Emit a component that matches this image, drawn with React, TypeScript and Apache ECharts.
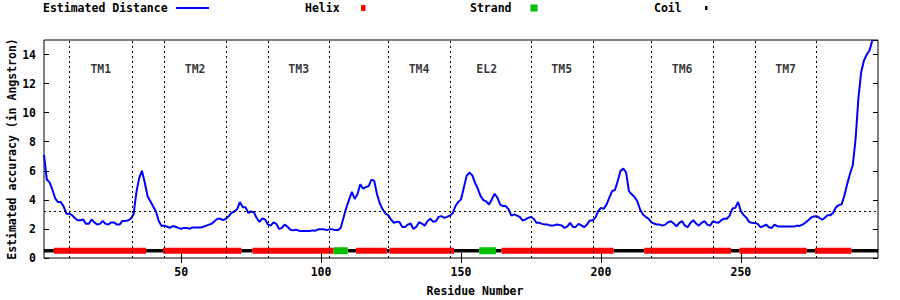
import React, { useEffect, useRef } from "react";
import * as echarts from "echarts";

const FONT = "'DejaVu Sans Mono', 'Liberation Mono', monospace";

// Estimated distance per residue, starting at residue 1
const firstResidue = 1;
const distance = [
  7.1, 5.4, 5.2, 4.7, 4.1, 3.85, 3.85, 3.55, 3.05, 3.05,
  2.95, 2.75, 2.6, 2.6, 2.65, 2.35, 2.35, 2.65, 2.45, 2.3,
  2.35, 2.55, 2.35, 2.3, 2.45, 2.45, 2.3, 2.3, 2.55, 2.55,
  2.58, 2.7, 3.0, 4.5, 5.5, 6.0, 5.2, 4.25, 3.9, 3.55,
  3.2, 2.55, 2.2, 2.23, 2.15, 2.07, 2.2, 2.15, 2.07, 2.0,
  2.07, 2.07, 2.0, 2.1, 2.1, 2.1, 2.1, 2.15, 2.23, 2.3,
  2.37, 2.55, 2.7, 2.7, 2.6, 2.7, 2.88, 3.1, 3.2, 3.35,
  3.85, 3.5, 3.5, 3.1, 3.2, 3.15, 2.75, 2.48, 2.73, 2.65,
  2.3, 2.23, 2.45, 2.35, 2.0, 2.07, 2.3, 2.15, 1.95, 1.9,
  1.95, 1.88, 1.86, 1.86, 1.86, 1.86, 1.9, 1.88, 1.97, 1.97,
  1.97, 1.92, 1.97, 1.97, 1.92, 1.92, 2.07, 2.75, 3.45, 4.0,
  4.55, 4.07, 4.38, 5.07, 4.77, 4.88, 4.95, 5.4, 5.3, 4.38,
  3.75, 3.35, 3.06, 2.95, 2.65, 2.42, 2.5, 2.48, 2.14, 2.14,
  2.3, 2.37, 2.0, 2.14, 2.46, 2.37, 2.23, 2.53, 2.7, 2.5,
  2.53, 2.83, 2.88, 2.76, 2.83, 2.92, 3.06, 3.57, 3.85, 4.03,
  4.84, 5.65, 5.88, 5.7, 5.18, 4.77, 4.26, 3.98, 3.9, 3.68,
  4.03, 4.42, 4.15, 3.68, 3.57, 3.57, 3.34, 2.92, 3.0, 2.92,
  2.83, 2.58, 2.65, 2.76, 2.83, 2.7, 2.42, 2.42, 2.35, 2.3,
  2.3, 2.23, 2.23, 2.3, 2.28, 2.23, 2.07, 2.18, 2.42, 2.14,
  2.14, 2.35, 2.25, 2.12, 2.3, 2.58, 2.58, 2.76, 3.22, 3.45,
  3.38, 3.68, 4.15, 4.6, 4.68, 5.3, 6.0, 6.15, 5.88, 4.6,
  4.38, 4.2, 3.9, 3.34, 3.0, 2.83, 2.7, 2.46, 2.37, 2.3,
  2.3, 2.23, 2.3, 2.46, 2.53, 2.37, 2.18, 2.42, 2.53, 2.23,
  2.12, 2.42, 2.6, 2.37, 2.23, 2.42, 2.53, 2.3, 2.23, 2.53,
  2.46, 2.42, 2.6, 2.7, 2.7, 2.92, 3.4, 3.45, 3.85, 3.22,
  2.95, 2.77, 2.47, 2.42, 2.4, 2.35, 2.12, 2.19, 2.3, 2.12,
  2.07, 2.3, 2.19, 2.16, 2.16, 2.16, 2.16, 2.16, 2.16, 2.23,
  2.21, 2.3, 2.42, 2.58, 2.77, 2.86, 2.88, 2.77, 2.63, 2.77,
  2.95, 2.95, 3.11, 3.5, 3.64, 3.69, 4.3, 5.1, 5.8, 6.4,
  8.2, 11.0, 12.8, 13.6, 14.0, 14.3, 15.0,
];

// Secondary structure segments: type (0 helix, 1 strand, 2 coil), first residue, last residue
const ssTypes = [2, 0, 2, 0, 2, 0, 1, 2, 0, 2, 0, 2, 1, 2, 0, 2, 0, 2, 0, 2, 0, 2];
const ssStart = [1, 5, 38, 44, 72, 76, 105, 110, 113, 124, 125, 148, 157, 163, 165, 205, 216, 247, 250, 274, 277, 290];
const ssEnd = [4, 37, 43, 71, 75, 104, 109, 112, 123, 124, 147, 156, 162, 164, 204, 215, 246, 249, 273, 276, 289, 299];
const ssColors = ["#ff0000", "#00c000", "#000000"];
const ssHeights = [6, 7, 3.5];
const ssLevel = 0.5;

// Region boundaries (dotted vertical lines) and region labels
const boundaries = [10, 32.4, 44, 66.2, 81.2, 103, 124, 146, 175, 197.2, 218, 240, 255, 277];
const regionNames = ["TM1", "TM2", "TM3", "TM4", "EL2", "TM5", "TM6", "TM7"];
const regionCenters = [21.3, 55, 92, 135, 159.2, 186, 229, 266];
const regionLabelLevel = 13;
const threshold = 3.22;

const xTicks = [50, 100, 150, 200, 250];
const xMin = 1;
const xMax = 299;
const yMax = 15;

export default function App() {
  const ref = useRef<HTMLDivElement>(null);
  useEffect(() => {
    if (!ref.current) return;
    const chart = echarts.init(ref.current, undefined, { renderer: "svg" });
    const textBase = { fontFamily: FONT, fontSize: 11.5, fontWeight: "bold" as const, color: "#000" };
    const option: any = {
      animation: false,
      backgroundColor: "#fff",
      grid: { left: 44, right: 22, top: 40, bottom: 42, show: true, borderColor: "#000", borderWidth: 1, backgroundColor: "transparent" },
      xAxis: [
        {
          type: "value", min: xMin, max: xMax, position: "bottom",
          axisLine: { show: false },
          splitLine: { show: false },
          axisTick: { show: true, inside: true, length: 5, customValues: xTicks, lineStyle: { color: "#000" } },
          axisLabel: { show: true, customValues: xTicks, margin: 8, ...textBase },
        },
        {
          type: "value", min: xMin, max: xMax, position: "top",
          axisLine: { show: false },
          splitLine: { show: false },
          axisTick: { show: true, inside: true, length: 5, customValues: xTicks, lineStyle: { color: "#000" } },
          axisLabel: { show: false, customValues: xTicks },
        },
      ],
      yAxis: [
        {
          type: "value", min: 0, max: yMax, interval: 2, position: "left",
          axisLine: { show: false },
          splitLine: { show: false },
          axisTick: { show: true, inside: true, length: 5, lineStyle: { color: "#000" } },
          axisLabel: { show: true, margin: 8, showMaxLabel: false, ...textBase },
        },
        {
          type: "value", min: 0, max: yMax, interval: 2, position: "right",
          axisLine: { show: false },
          splitLine: { show: false },
          axisTick: { show: true, inside: true, length: 5, lineStyle: { color: "#000" } },
          axisLabel: { show: false },
        },
      ],
      series: [
        {
          name: "Estimated Distance",
          type: "line",
          data: distance.map((v, i) => [firstResidue + i, v]),
          showSymbol: false,
          symbol: "none",
          lineStyle: { color: "#0000ff", width: 2 },
          z: 3,
          markLine: {
            silent: true,
            symbol: ["none", "none"],
            label: { show: false },
            lineStyle: { color: "#000", type: [2, 3], width: 1 },
            data: [...boundaries.map((b) => ({ xAxis: b })), { yAxis: threshold }],
          },
        },
        {
          name: "Secondary structure",
          type: "custom",
          clip: true,
          z: 4,
          data: ssTypes.map((t, i) => [ssStart[i], ssEnd[i], t]),
          renderItem: (_params: any, api: any) => {
            const s = api.value(0);
            const e = api.value(1);
            const t = api.value(2);
            const p0 = api.coord([s - 0.5, ssLevel]);
            const p1 = api.coord([e + 0.5, ssLevel]);
            const h = ssHeights[t];
            return {
              type: "rect",
              shape: { x: p0[0], y: p0[1] - h / 2, width: p1[0] - p0[0], height: h },
              style: { fill: ssColors[t] },
              z2: t === 2 ? 0 : 1,
            };
          },
        },
        {
          name: "Regions", type: "scatter",
          data: regionCenters.map((c, i) => ({ value: [c, regionLabelLevel], name: regionNames[i] })),
          symbolSize: 0,
          label: { show: true, position: "inside", formatter: (p: any) => p.name, ...textBase },
          z: 5,
        },
      ],
      graphic: [
        { type: "text", left: 43, top: 2, style: { text: "Estimated Distance", font: `bold 11.5px ${FONT}`, fill: "#000" } },
        { type: "line", shape: { x1: 176, y1: 8, x2: 209, y2: 8 }, style: { stroke: "#0000ff", lineWidth: 2 } },
        { type: "text", left: 305, top: 2, style: { text: "Helix", font: `bold 11.5px ${FONT}`, fill: "#000" } },
        { type: "rect", shape: { x: 361, y: 5, width: 4.5, height: 6 }, style: { fill: "#ff0000" } },
        { type: "text", left: 470, top: 2, style: { text: "Strand", font: `bold 11.5px ${FONT}`, fill: "#000" } },
        { type: "rect", shape: { x: 530.5, y: 4.5, width: 7, height: 7 }, style: { fill: "#00c000" } },
        { type: "text", left: 654, top: 2, style: { text: "Coil", font: `bold 11.5px ${FONT}`, fill: "#000" } },
        { type: "rect", shape: { x: 705, y: 6, width: 2.5, height: 4 }, style: { fill: "#000" } },
        {
          type: "text", x: 12, y: 149, rotation: Math.PI / 2,
          style: { text: "Estimated accuracy (in Angstron)", font: `bold 11.5px ${FONT}`, fill: "#000", align: "center", verticalAlign: "middle" },
        },
        {
          type: "text", x: 475, y: 291,
          style: { text: "Residue Number", font: `bold 11.5px ${FONT}`, fill: "#000", align: "center", verticalAlign: "middle" },
        },
      ],
    };
    chart.setOption(option);
    return () => chart.dispose();
  }, []);
  return <div ref={ref} style={{ position: "fixed", left: 0, top: 0, width: 900, height: 300 }} />;
}
